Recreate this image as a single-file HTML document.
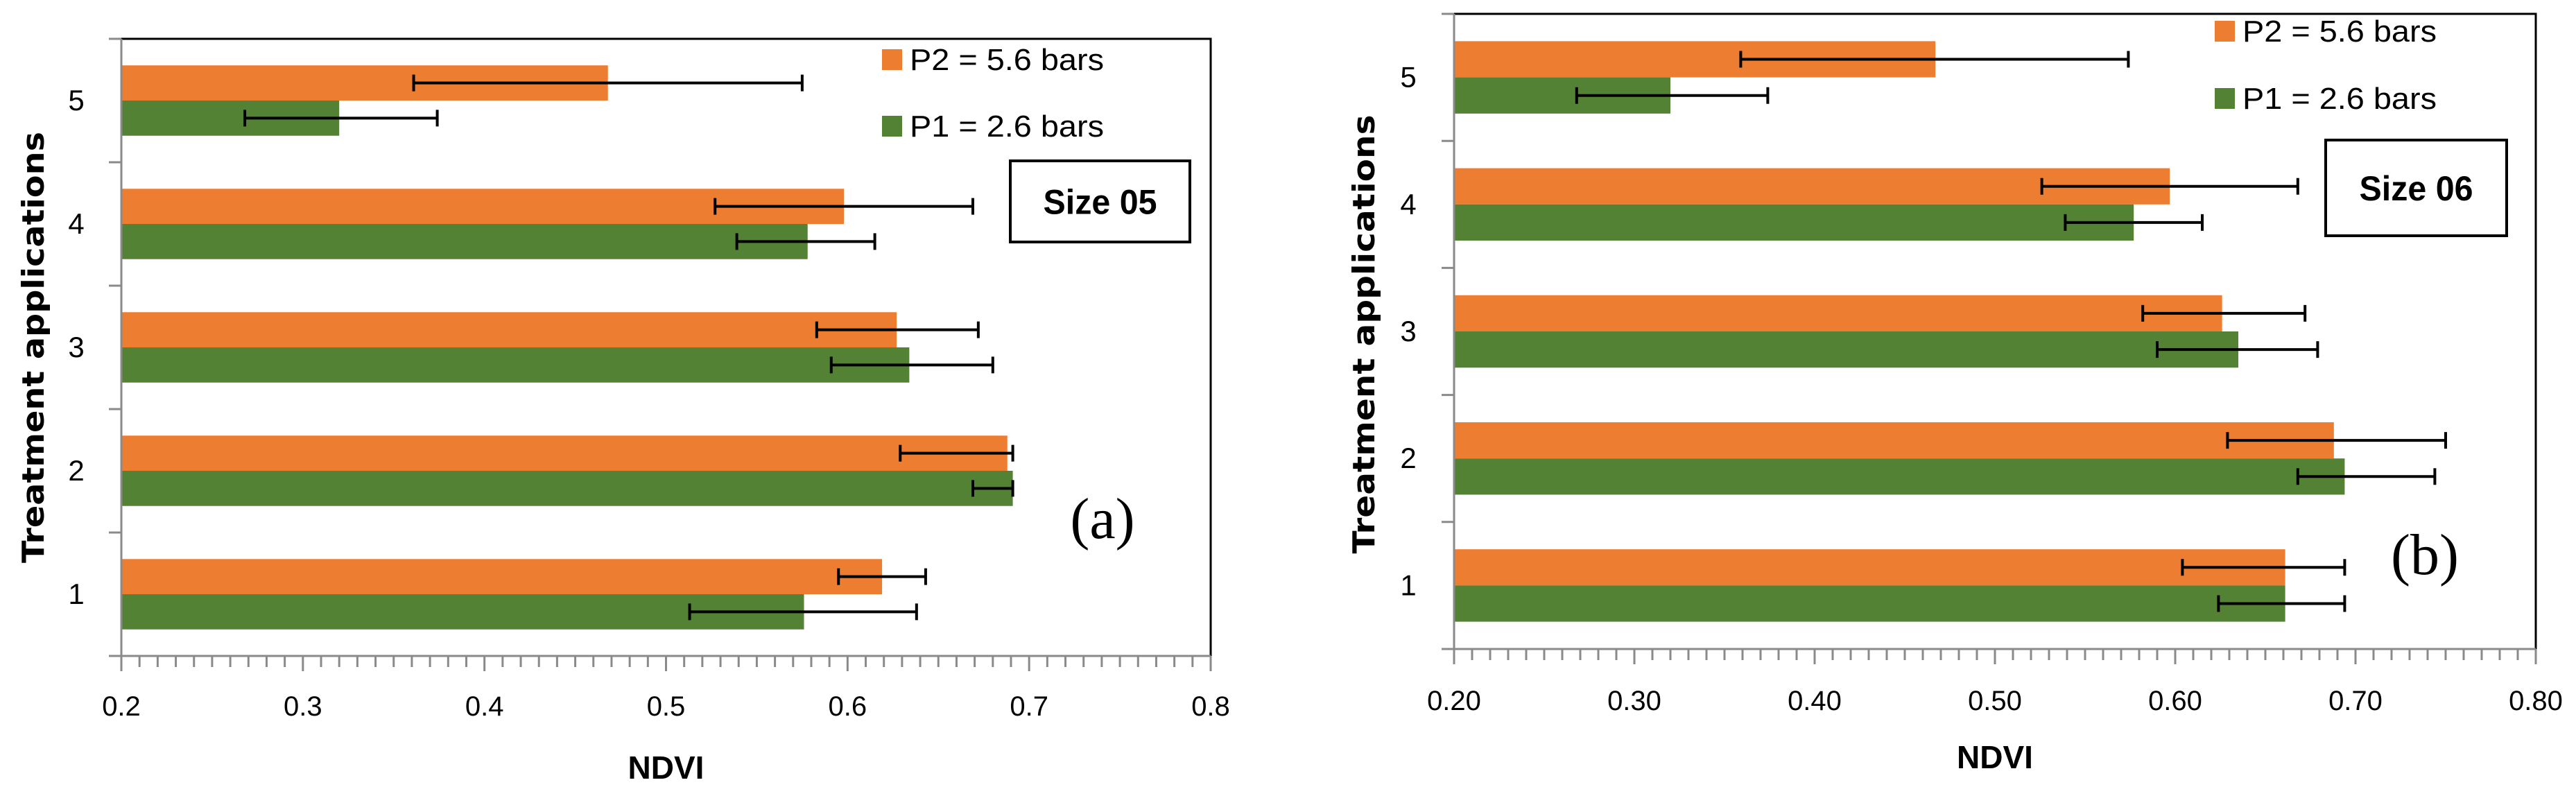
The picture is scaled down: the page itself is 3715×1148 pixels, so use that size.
<!DOCTYPE html>
<html><head><meta charset="utf-8"><style>
html,body{margin:0;padding:0;background:#fff;}
svg{display:block;}
text{font-family:"Liberation Sans",sans-serif;}
</style></head><body>
<svg id="chart" width="3715" height="1148" viewBox="0 0 3715 1148" xmlns="http://www.w3.org/2000/svg"></svg>
<script>
const categories = [1, 2, 3, 4, 5];
const tickLabelsA = ["0.2","0.3","0.4","0.5","0.6","0.7","0.8"];
const tickLabelsB = ["0.20","0.30","0.40","0.50","0.60","0.70","0.80"];
const tickValues = [0.2,0.3,0.4,0.5,0.6,0.7,0.8];
// Panel (a) Size 05
const aP2 = [0.619, 0.688, 0.627, 0.598, 0.468];
const aP2Lo = [0.595, 0.629, 0.583, 0.527, 0.361];
const aP2Hi = [0.643, 0.691, 0.672, 0.669, 0.575];
const aP1 = [0.576, 0.691, 0.634, 0.578, 0.320];
const aP1Lo = [0.513, 0.669, 0.591, 0.539, 0.268];
const aP1Hi = [0.638, 0.691, 0.680, 0.615, 0.374];
// Panel (b) Size 06
const bP2 = [0.661, 0.688, 0.626, 0.597, 0.467];
const bP2Lo = [0.604, 0.629, 0.582, 0.526, 0.359];
const bP2Hi = [0.694, 0.750, 0.672, 0.668, 0.574];
const bP1 = [0.661, 0.694, 0.635, 0.577, 0.320];
const bP1Lo = [0.624, 0.668, 0.590, 0.539, 0.268];
const bP1Hi = [0.694, 0.744, 0.679, 0.615, 0.374];

const NS = "http://www.w3.org/2000/svg";
const svg = document.getElementById("chart");
function el(tag, attrs, parent, txt){
  const e = document.createElementNS(NS, tag);
  for (const k in attrs) e.setAttribute(k, attrs[k]);
  if (txt !== undefined) e.textContent = txt;
  (parent || svg).appendChild(e);
  return e;
}
const ORANGE = "#ED7D31", GREEN = "#548235";

function panel(cfg){
  const g = el("g", {});
  
  
  const x = v => cfg.x0 + (v - 0.2) / 0.6 * (cfg.x1 - cfg.x0);
  const bandH = (cfg.yb - cfg.yt) / categories.length;
  const bandTop = i => cfg.yb - (i + 1) * bandH;
  const border = el("path", {d:`M${cfg.x0} ${cfg.yt} H${cfg.x1} V${cfg.yb}`, stroke:"#000", "stroke-width":3, fill:"none"}, g);
  
  
  const barH = bandH * 0.285;
  categories.forEach((c, i) => {
    const cy = bandTop(i) + bandH / 2;
    const series = [
      {v: cfg.p2[i], lo: cfg.p2lo[i], hi: cfg.p2hi[i], col: ORANGE, y: cy - barH, n: "p2"},
      {v: cfg.p1[i], lo: cfg.p1lo[i], hi: cfg.p1hi[i], col: GREEN, y: cy, n: "p1"}
    ];
    series.forEach(s => {
      const r = el("rect", {x: cfg.x0, y: s.y, width: x(s.v) - cfg.x0, height: barH, fill: s.col}, g);
      
      
    });
    series.forEach(s => {
      const ey = s.y + barH / 2;
      const eb = el("path", {d:`M${x(s.lo)} ${ey} H${x(s.hi)} M${x(s.lo)} ${ey-12} V${ey+12} M${x(s.hi)} ${ey-12} V${ey+12}`, stroke:"#000", "stroke-width":4, fill:"none"}, g);
      
      
    });
    const cl = el("text", {x: cfg.catX, y: cy + 14, "font-size": 42, "text-anchor": "middle", fill: "#000"}, g, String(c));
    
    
  });
  let d = `M${cfg.x0} ${cfg.yt} V${cfg.yb} H${cfg.x1}`;
  for (let i = 0; i <= categories.length; i++) d += ` M${cfg.x0 - 18} ${cfg.yb - i * bandH} H${cfg.x0}`;
  for (let k = 0; k <= 60; k++) { const xx = cfg.x0 + k * (cfg.x1 - cfg.x0) / 60; d += ` M${xx} ${cfg.yb} V${cfg.yb + (k % 10 === 0 ? 22 : 16)}`; }
  const ax = el("path", {d, stroke:"#8a8a8a", "stroke-width":3, fill:"none"}, g);
  
  
  tickValues.forEach((v, k) => {
    const t = el("text", {x: x(v), y: cfg.tickY + 14, "font-size": 40, "text-anchor": "middle", fill: "#000"}, g, cfg.ticks[k]);
    
    
  });
  const xt = el("text", {x: (cfg.x0 + cfg.x1) / 2, y: cfg.ndviY + 17, "font-size": 46, "font-weight": "bold", "text-anchor": "middle"}, g, "NDVI");
  
  
  const yt = el("text", {x: 0, y: 0, "font-size": 44, "font-weight": "bold", "text-anchor": "middle", style: "font-family:'DejaVu Sans',sans-serif", textLength: cfg.ylLen, lengthAdjust: "spacingAndGlyphs", transform: `translate(${cfg.ylX + 16} ${cfg.ylY}) rotate(-90)`}, g, "Treatment applications");
  
  
  [[ORANGE, "P2 = 5.6 bars", cfg.lg1], [GREEN, "P1 = 2.6 bars", cfg.lg2]].forEach(([col, txt, ly], j) => {
    const le = el("g", {}, g);
    
    
    el("rect", {x: cfg.lgX, y: ly, width: 29, height: 30, fill: col}, le);
    el("text", {x: cfg.lgX + 40, y: ly + 30, "font-size": 44, textLength: 280, lengthAdjust: "spacingAndGlyphs"}, le, txt);
  });
  const bx = el("g", {}, g);
  
  
  el("rect", {x: cfg.box[0], y: cfg.box[1], width: cfg.box[2], height: cfg.box[3], fill: "#fff", stroke: "#000", "stroke-width": 4}, bx);
  el("text", {x: cfg.box[0] + cfg.box[2] / 2, y: cfg.box[1] + cfg.box[3] / 2 + 18, "font-size": 50, "font-weight": "bold", "text-anchor": "middle", textLength: 164, lengthAdjust: "spacingAndGlyphs"}, bx, cfg.size);
  const pl = el("text", {x: cfg.plX, y: cfg.plY + 26, "font-size": 84, "text-anchor": "middle", style: "font-family:'Liberation Serif',serif"}, g, cfg.pl);
  
  
}

panel({name: "panel-a-size-05", x0: 175, x1: 1746, yt: 56, yb: 946, catX: 110,
  p2: aP2, p2lo: aP2Lo, p2hi: aP2Hi, p1: aP1, p1lo: aP1Lo, p1hi: aP1Hi,
  ticks: tickLabelsA, tickY: 1018, ndviY: 1106, ylX: 47, ylY: 501, ylLen: 622,
  lgX: 1272, lg1: 71, lg2: 167, box: [1457, 232, 259, 117], size: "Size 05", pl: "(a)", plX: 1590, plY: 750});
panel({name: "panel-b-size-06", x0: 2097, x1: 3657, yt: 20, yb: 936, catX: 2031,
  p2: bP2, p2lo: bP2Lo, p2hi: bP2Hi, p1: bP1, p1lo: bP1Lo, p1hi: bP1Hi,
  ticks: tickLabelsB, tickY: 1010, ndviY: 1091, ylX: 1966, ylY: 482, ylLen: 633,
  lgX: 3194, lg1: 30, lg2: 127, box: [3354, 202, 261, 138], size: "Size 06", pl: "(b)", plX: 3497, plY: 802});
</script>
</body></html>
